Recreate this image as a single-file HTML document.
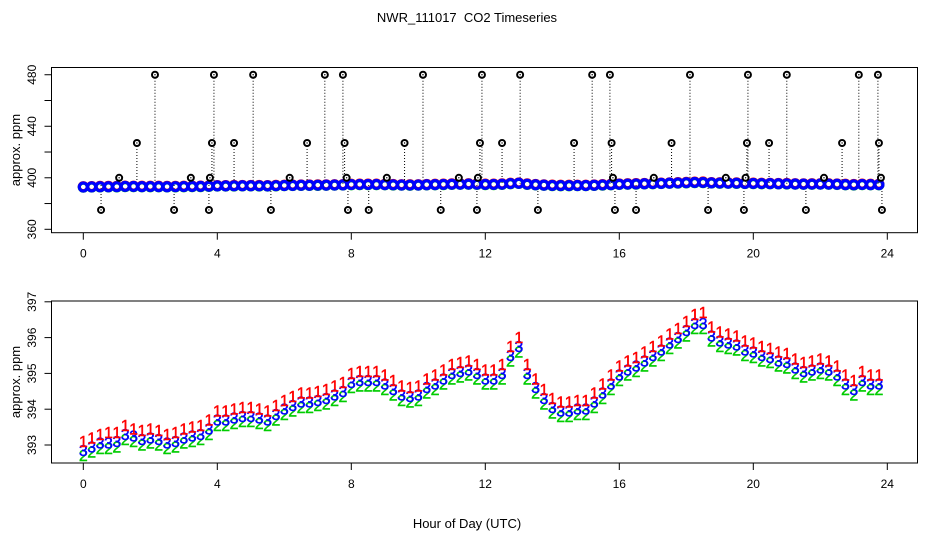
<!DOCTYPE html>
<html><head><meta charset="utf-8"><style>
html,body{margin:0;padding:0;background:#fff;}
svg{display:block;font-family:"Liberation Sans",sans-serif;}
</style></head><body>
<svg id="chart" width="936" height="540" viewBox="0 0 936 540" xmlns="http://www.w3.org/2000/svg">
<rect width="936" height="540" fill="#fff"/>
<text x="467" y="22" font-size="13" text-anchor="middle" style="white-space:pre">NWR_111017  CO2 Timeseries</text>
<text x="467" y="528" font-size="13" text-anchor="middle">Hour of Day (UTC)</text>
<g id="top"></g>
<g id="bot"></g>
</svg>
<script>
const hours=[0,0.25,0.5,0.75,1,1.25,1.5,1.75,2,2.25,2.5,2.75,3,3.25,3.5,3.75,4,4.25,4.5,4.75,5,5.25,5.5,5.75,6,6.25,6.5,6.75,7,7.25,7.5,7.75,8,8.25,8.5,8.75,9,9.25,9.5,9.75,10,10.25,10.5,10.75,11,11.25,11.5,11.75,12,12.25,12.5,12.75,13,13.25,13.5,13.75,14,14.25,14.5,14.75,15,15.25,15.5,15.75,16,16.25,16.5,16.75,17,17.25,17.5,17.75,18,18.25,18.5,18.75,19,19.25,19.5,19.75,20,20.25,20.5,20.75,21,21.25,21.5,21.75,22,22.25,22.5,22.75,23,23.25,23.5,23.75];
const series1=[393.1,393.2,393.3,393.35,393.35,393.55,393.45,393.4,393.45,393.4,393.3,393.35,393.45,393.5,393.55,393.7,393.95,393.95,394.0,394.05,394.05,394.0,393.95,394.1,394.25,394.35,394.45,394.45,394.5,394.55,394.65,394.75,395.0,395.05,395.05,395.05,394.95,394.8,394.65,394.6,394.65,394.85,394.95,395.1,395.25,395.3,395.35,395.25,395.1,395.1,395.25,395.75,396.0,395.25,394.85,394.55,394.3,394.2,394.2,394.25,394.25,394.45,394.7,394.95,395.2,395.35,395.45,395.6,395.75,395.9,396.1,396.25,396.45,396.65,396.7,396.3,396.15,396.1,396.05,395.9,395.85,395.75,395.7,395.6,395.55,395.4,395.3,395.35,395.4,395.35,395.2,394.95,394.8,395.05,394.95,394.95];
const series2=[392.7,392.8,392.9,392.9,392.95,393.15,393.1,393.0,393.05,393.0,392.9,392.95,393.05,393.1,393.15,393.3,393.55,393.55,393.6,393.65,393.65,393.6,393.55,393.7,393.85,393.95,394.05,394.05,394.1,394.15,394.25,394.35,394.6,394.65,394.65,394.65,394.55,394.4,394.25,394.2,394.25,394.45,394.55,394.7,394.85,394.9,394.95,394.85,394.7,394.7,394.85,395.35,395.6,394.85,394.45,394.15,393.9,393.8,393.8,393.85,393.85,394.05,394.3,394.55,394.8,394.95,395.05,395.2,395.35,395.5,395.7,395.85,396.05,396.25,396.25,395.9,395.75,395.7,395.65,395.5,395.45,395.35,395.3,395.2,395.15,395.0,394.9,394.95,395.0,394.95,394.8,394.55,394.4,394.65,394.55,394.55];
const series3=[392.85,392.95,393.05,393.05,393.1,393.3,393.25,393.15,393.2,393.15,393.05,393.1,393.2,393.25,393.3,393.45,393.7,393.7,393.75,393.8,393.8,393.75,393.7,393.85,394.0,394.1,394.2,394.2,394.25,394.3,394.4,394.5,394.75,394.8,394.8,394.8,394.7,394.55,394.4,394.35,394.4,394.6,394.7,394.85,395.0,395.05,395.1,395.0,394.85,394.85,395.0,395.5,395.75,395.0,394.6,394.3,394.05,393.95,393.95,394.0,394.0,394.2,394.45,394.7,394.95,395.1,395.2,395.35,395.5,395.65,395.85,396.0,396.2,396.4,396.4,396.05,395.9,395.85,395.8,395.65,395.6,395.5,395.45,395.35,395.3,395.15,395.05,395.1,395.15,395.1,394.95,394.7,394.55,394.8,394.7,394.7];
const outlierHours=[2.14,3.90,5.07,7.21,7.75,10.14,11.90,13.04,15.19,15.72,18.11,19.84,21.0,23.15,23.72,
1.60,3.84,4.50,6.68,7.80,9.59,11.84,12.50,14.65,15.77,17.56,19.81,20.47,22.65,23.75,
1.07,3.21,3.78,6.16,7.86,9.06,11.21,11.78,15.81,17.03,19.18,19.77,22.11,23.81,
0.53,2.71,3.75,5.60,7.90,8.52,10.67,11.75,13.57,15.87,16.5,18.65,19.72,21.57,23.84];
const outlierValues=[480,480,480,480,480,480,480,480,480,480,480,480,480,480,480,
427,427,427,427,427,427,427,427,427,427,427,427,427,427,427,
400,400,400,400,400,400,400,400,400,400,400,400,400,400,
375,375,375,375,375,375,375,375,375,375,375,375,375,375,375];
const xTicks=[0,4,8,12,16,20,24];
const topYTicks=[360,380,400,420,440,460,480];
const topYLabels=[360,400,440,480];
const botYTicks=[393,394,395,396,397];

const NS='http://www.w3.org/2000/svg';
function mk(parent,tag,attrs){const e=document.createElementNS(NS,tag);for(const k in attrs)e.setAttribute(k,attrs[k]);parent.appendChild(e);return e;}
const xs=h=>83.3+h*33.5;
const L=51.5,R=917.5;

function axes(g,top,bottom,ys,ticks,labels,prefix){
  let b=mk(g,'rect',{x:L,y:top,width:R-L,height:bottom-top,fill:'none',stroke:'#000','stroke-width':1});
  
  
  xTicks.forEach(t=>{
    let l=mk(g,'line',{x1:xs(t),x2:xs(t),y1:bottom,y2:bottom+7,stroke:'#000'});
    
    
    let tx=mk(g,'text',{x:xs(t),y:bottom+25,'font-size':12,'text-anchor':'middle'});
    tx.textContent=t;
    
    
  });
  ticks.forEach(v=>{
    let l=mk(g,'line',{x1:L-7,x2:L,y1:ys(v),y2:ys(v),stroke:'#000'});
    
    
  });
  labels.forEach(v=>{
    let tx=mk(g,'text',{x:0,y:0,'font-size':12,'text-anchor':'middle',transform:`translate(36,${ys(v)}) rotate(-90)`});
    tx.textContent=v;
    
    
  });
  let yt=mk(g,'text',{x:0,y:0,'font-size':13,'text-anchor':'middle',transform:`translate(20,${(top+bottom)/2}) rotate(-90)`});
  yt.textContent='approx. ppm';
  
  
}

// top panel
const gt=document.getElementById('top');
const ysT=v=>229.3-(v-360)*1.288;
axes(gt,67.5,232.7,ysT,topYTicks,topYLabels,'top');
outlierHours.forEach((h,i)=>{
  let l=mk(gt,'line',{x1:xs(h),x2:xs(h),y1:ysT(outlierValues[i]),y2:ysT(395),stroke:'#000','stroke-dasharray':'1,2'});
  
  
});
[[series1,'#ff0000'],[series2,'#00cc00'],[series3,'#0000ff']].forEach(([s,c])=>{
  s.forEach((v,i)=>{
    let ci=mk(gt,'circle',{cx:xs(hours[i]),cy:ysT(v),r:4,fill:'none',stroke:c,'stroke-width':3.2});
    
    
  });
});
outlierHours.forEach((h,i)=>{
  let ci=mk(gt,'circle',{cx:xs(h),cy:ysT(outlierValues[i]),r:3,fill:'#fff',stroke:'#000','stroke-width':2});
  
  
  let d=mk(gt,'circle',{cx:xs(h),cy:ysT(outlierValues[i]),r:0.7,fill:'#000'});
  
  
});

// bottom panel
const gb=document.getElementById('bot');
const ysB=v=>445-(v-393)*35.8;
axes(gb,301,463,ysB,botYTicks,botYTicks,'bottom');
[[series2,'#00cc00','2'],[series3,'#0000ff','3'],[series1,'#ff0000','1']].forEach(([s,c,ch])=>{
  s.forEach((v,i)=>{
    let t=mk(gb,'text',{x:xs(hours[i]),y:ysB(v)+5.5,'font-size':16,'text-anchor':'middle',fill:c,stroke:c,'stroke-width':0.4});
    t.textContent=ch;
    
    
  });
});
</script>
</body></html>
